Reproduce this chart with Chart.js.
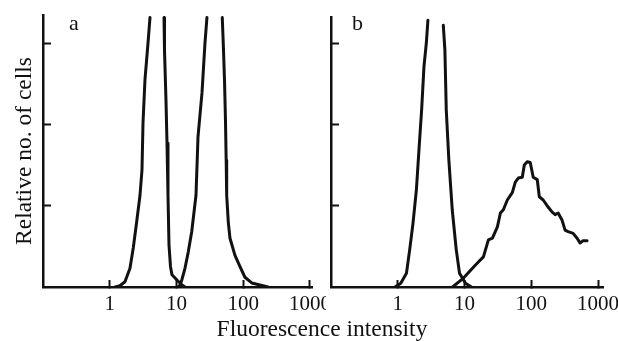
<!DOCTYPE html>
<html><head><meta charset="utf-8">
<script src="https://cdn.jsdelivr.net/npm/chart.js@4"></script>
<style>
html,body{margin:0;padding:0;background:#fff;width:618px;height:341px;overflow:hidden;position:relative;}
canvas{position:absolute;top:0;}
#ca{left:0;}
#cb{left:326px;}
.t{position:absolute;font-family:"Liberation Serif","Times New Roman",serif;color:#111;white-space:nowrap;}
</style>
</head><body>
<canvas id="ca" width="326" height="341"></canvas>
<canvas id="cb" width="292" height="341"></canvas>
<div class="t" style="left:69px;top:12px;font-size:22px;line-height:22px;">a</div>
<div class="t" style="left:352px;top:12px;font-size:22px;line-height:22px;">b</div>
<div class="t" style="left:122px;top:317px;width:400px;text-align:center;font-size:23.5px;line-height:23.5px;">Fluorescence intensity</div>
<script>
// ---- data ----
const decadeTicks = [1, 10, 100, 1000];
const countTicks = [1, 2, 3];
const yTitle = "Relative no. of cells";

// panel a, population 1 (peak runs off the top of the frame; null = clipped gap)
const a1X = [1.20, 1.42, 1.69, 2.01, 2.25, 2.53, 2.84, 3.04, 3.15, 3.37, 3.74, 4.01, 5.1, 6.50, 6.61, 6.96, 7.21, 7.46, 7.72, 8.13, 8.56, 10.5, 12.1, 13.4];
const a1Y = [0, 0.016, 0.065, 0.23, 0.48, 0.80, 1.13, 1.44, 2.02, 2.55, 3.0, 3.32, null, 3.32, 2.92, 2.30, 1.77, 1.13, 0.52, 0.25, 0.15, 0.074, 0.025, 0];
// panel a, population 2
const a2X = [10.5, 11.3, 12.0, 13.4, 15.0, 16.9, 19.6, 21.0, 24.1, 26.7, 28.6, 38, 48.5, 50.2, 52.4, 54.2, 55.5, 56.5, 59.7, 63.3, 75.2, 89.4, 106, 134, 178, 235];
const a2Y = [0, 0.025, 0.086, 0.23, 0.43, 0.68, 1.13, 1.85, 2.39, 3.0, 3.32, null, 3.32, 3.0, 2.55, 2.05, 1.56, 1.13, 0.80, 0.60, 0.39, 0.25, 0.12, 0.05, 0.025, 0];
// panel b, population 1
const b1X = [0.91, 1.11, 1.35, 1.51, 1.69, 1.90, 2.08, 2.28, 2.47, 2.68, 2.83, 3.8, 4.81, 5.08, 5.33, 5.83, 6.55, 7.52, 8.42, 10.35, 12.7];
const b1Y = [0, 0.045, 0.17, 0.46, 0.78, 1.19, 1.69, 2.18, 2.71, 3.0, 3.28, null, 3.22, 2.92, 2.18, 1.56, 0.95, 0.46, 0.17, 0.045, 0];
// panel b, population 2
const b2X = [6.62, 9.66, 14.6, 19.2, 22.8, 26.2, 31.1, 34.5, 38.2, 43.8, 52.0, 57.7, 64.0, 73.4, 78.7, 87.1, 96.6, 107, 123, 132, 151, 180, 206, 228, 253, 290, 321, 357, 424, 486, 538, 597, 685];
const b2Y = [0, 0.11, 0.27, 0.37, 0.58, 0.60, 0.74, 0.91, 0.95, 1.07, 1.16, 1.29, 1.34, 1.35, 1.50, 1.54, 1.53, 1.35, 1.32, 1.11, 1.07, 0.98, 0.92, 0.89, 0.91, 0.82, 0.70, 0.68, 0.66, 0.60, 0.54, 0.57, 0.57];

// ---- chart ----
const INK = '#111';
const FONT = '"Liberation Serif", "Times New Roman", serif';
function pts(xs, ys) { return xs.map((x, i) => ({ x: x, y: ys[i] })); }

function makeChart(id, series, cfg) {
  return new Chart(document.getElementById(id), {
    type: 'line',
    data: {
      datasets: series.map(s => ({
        data: pts(s[0], s[1]),
        borderColor: INK, borderWidth: 3, pointRadius: 0, tension: 0,
        spanGaps: false, fill: false, borderJoinStyle: 'round', borderCapStyle: 'round'
      }))
    },
    options: {
      responsive: false, animation: false, events: [],
      layout: { autoPadding: false, padding: { left: 0, top: cfg.top, right: cfg.right, bottom: 0 } },
      plugins: { legend: { display: false }, tooltip: { enabled: false } },
      scales: {
        x: {
          type: 'logarithmic', min: 0.1, max: cfg.xmax,
          afterBuildTicks: s => { s.ticks = decadeTicks.map(v => ({ value: v })); },
          afterFit: s => { s.height = 54; s.paddingLeft = 0; s.paddingRight = 0; },
          ticks: { autoSkip: false, maxRotation: 0, padding: 12, color: INK,
                   font: { family: FONT, size: 21 }, callback: v => String(v) },
          grid: { drawOnChartArea: false, drawTicks: true, tickLength: -7, tickColor: INK, tickWidth: 2 },
          border: { display: true, color: INK, width: 2.5 }
        },
        y: {
          type: 'linear', min: 0, max: cfg.ymax,
          afterBuildTicks: s => { s.ticks = countTicks.map(v => ({ value: v })); },
          afterFit: s => { s.width = cfg.yw; s.paddingTop = 0; s.paddingBottom = 0; },
          ticks: { display: false },
          grid: { drawOnChartArea: false, drawTicks: true, tickLength: -8, tickColor: INK, tickWidth: 2 },
          border: { display: true, color: INK, width: 2.5 },
          title: { display: cfg.showTitle, text: yTitle, color: INK,
                   font: { family: FONT, size: 23.5 }, padding: { top: 11, bottom: 0 } }
        }
      }
    }
  });
}

makeChart('ca', [[a1X, a1Y], [a2X, a2Y]], { top: 15, right: 14, xmax: 1072, ymax: 3.35, yw: 43, showTitle: true });
makeChart('cb', [[b1X, b1Y], [b2X, b2Y]], { top: 17, right: 15, xmax: 1188, ymax: 3.32, yw: 5, showTitle: false });
</script>
</body></html>
